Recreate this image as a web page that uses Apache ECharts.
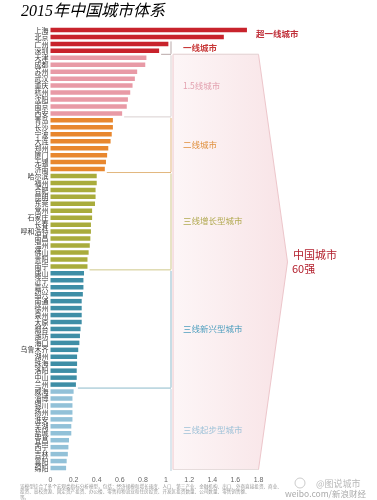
<!DOCTYPE html>
<html><head><meta charset="utf-8">
<script src="https://cdn.jsdelivr.net/npm/echarts@6/dist/echarts.min.js"></script>
<style>html,body{margin:0;padding:0;background:#fff}#c{width:377px;height:500px}</style>
</head><body><div id="c"></div>
<script>
// ---- data ----
const cities = ['上海','北京','广州','深圳',
  '天津','成都','苏州','武汉','重庆','杭州','沈阳','南京','西安',
  '青岛','长沙','宁波','大连','郑州','厦门','无锡','济南',
  '哈尔滨','福州','合肥','昆明','东莞','常州','石家庄','长春','呼和浩特','南昌','温州','佛山','贵阳','南宁',
  '唐山','济宁','嘉兴','绍兴','南通','徐州','泉州','太原','烟台','潍坊','海口','乌鲁木齐','湖州','珠海','洛阳','中山','兰州',
  '威海','淄博','银川','扬州','淮安','芜湖','盐城','宜昌','西宁','吉林','襄阳','绵阳'];
const values = [1.70,1.50,1.02,0.94,
  0.83,0.82,0.75,0.73,0.71,0.69,0.67,0.66,0.62,
  0.54,0.54,0.53,0.52,0.50,0.49,0.48,0.47,
  0.40,0.40,0.39,0.39,0.385,0.36,0.36,0.35,0.35,0.345,0.34,0.33,0.32,0.32,
  0.29,0.285,0.285,0.28,0.27,0.27,0.27,0.27,0.26,0.255,0.25,0.24,0.23,0.23,0.227,0.227,0.22,
  0.20,0.19,0.19,0.19,0.19,0.18,0.18,0.16,0.155,0.15,0.14,0.135];
const tierNames = ['超一线城市','一线城市','1.5线城市','二线城市','三线增长型城市','三线新兴型城市','三线起步型城市'];
const tierSizes = [2,2,9,8,14,17,12];
const xTickLabels = ['0','0.2','0.4','0.6','0.8','1','1.2','1.4','1.6','1.8'];
const titleText = '2015年中国城市体系';
const sideText = ['中国城市','60强'];

// ---- styles ----
const barColors = ['#c8232c','#c8232c','#e89aa6','#e8872e','#a9ac3c','#3e8ea6','#92c1d8'];
const textColors = ['#c0303a','#c83a3a','#e3a2b0','#e0903e','#b2aa52','#4f9fbf','#9fc2d8'];
const lineColors = ['#ccc','#b9a9a9','#d9d0d0','#e2b77e','#cfc88a','#8dbacb','#b7cfdc'];

const tierOf = [];
tierSizes.forEach((n,t)=>{for(let k=0;k<n;k++) tierOf.push(t);});

const chart = echarts.init(document.getElementById('c'));
chart.setOption({
  animation:false,
  backgroundColor:'#fff',
  grid:{left:50.5, right:118.5, top:26.5, bottom:28.5},
  xAxis:{type:'value', min:0, max:1.8, interval:0.2,
    axisLine:{show:false}, axisTick:{show:false}, splitLine:{show:false},
    axisLabel:{fontSize:7, color:'#666', margin:5, fontFamily:'Liberation Sans',
      formatter:(v)=>xTickLabels[Math.round(v/0.2)]}},
  yAxis:{type:'category', inverse:true, data:cities,
    axisLine:{show:false}, axisTick:{show:false},
    axisLabel:{fontSize:7, color:'#3a3a3a', margin:2, interval:0, fontFamily:'Noto Sans CJK SC', lineHeight:7}},
  series:[{type:'bar', z:5, barWidth:4.5,
    data:values.map((v,i)=>({value:v, itemStyle:{color:barColors[tierOf[i]]}}))}]
});

// ---- decorations computed from axes ----
const px = (v)=>chart.convertToPixel({xAxisIndex:0}, v);
const py = (c)=>chart.convertToPixel({yAxisIndex:0}, c);
const pitch = py(cities[1]) - py(cities[0]);
const g = [];
const bx = 171;
let start = 0, starts = [];
tierSizes.forEach(n=>{starts.push(start); start+=n;});
const polyTop = py(cities[starts[2]]) - pitch/2;
const polyBot = py(cities[cities.length-1]) + pitch/2 - 2;
const right = px(1.8);
g.push({type:'polygon', z:0, shape:{points:[[bx+2,polyTop],[right,polyTop],[right+29,(polyTop+polyBot)/2],[right,polyBot],[bx+2,polyBot]]},
  style:{fill:new echarts.graphic.LinearGradient(0,0,1,0,[{offset:0,color:'#fdf6f7'},{offset:1,color:'#f8e3e6'}]), stroke:'#edc6cb', lineWidth:1}});
g.push({type:'line', z:1, shape:{x1:bx+2,y1:polyTop,x2:right,y2:polyTop}, style:{stroke:'#e6dcdc', lineWidth:1}});
g.push({type:'line', z:1, shape:{x1:bx+2,y1:polyBot,x2:right,y2:polyBot}, style:{stroke:'#e6dcdc', lineWidth:1}});

for(let t=1;t<tierSizes.length;t++){
  const first = starts[t], last = starts[t]+tierSizes[t]-1;
  const top = py(cities[first]) - pitch/2 + 1;
  const bot = py(cities[last]) + pitch/2 - 0.5;
  g.push({type:'line', z:3, shape:{x1:bx,y1:top,x2:bx,y2:bot}, style:{stroke:lineColors[t], lineWidth:1}});
  if(t < tierSizes.length-1){
    const endX = Math.max(px(values[last]), px(values[last+1])) + 2;
    g.push({type:'line', z:3, shape:{x1:endX,y1:bot+0.5,x2:bx,y2:bot+0.5}, style:{stroke:lineColors[t], lineWidth:1}});
  }
  g.push({type:'text', z:6, x:183, y:(py(cities[first])+py(cities[last]))/2,
    style:{text:tierNames[t], fill:textColors[t], font:(t===1?'bold ':'')+'8.5px "Noto Sans CJK SC"', textVerticalAlign:'middle'}});
}
g.push({type:'text', z:6, x:256, y:(py(cities[0])+py(cities[1]))/2,
  style:{text:tierNames[0], fill:textColors[0], font:'bold 8.5px "Noto Sans CJK SC"', textVerticalAlign:'middle'}});
const midY = (polyTop+polyBot)/2;
g.push({type:'text', z:6, x:293, y:midY-7, style:{text:sideText[0], fill:'#b3202e', font:'11px "Noto Sans CJK SC"', textVerticalAlign:'middle'}});
g.push({type:'text', z:6, x:292, y:midY+7, style:{text:sideText[1], fill:'#b3202e', font:'11px "Noto Sans CJK SC"', textVerticalAlign:'middle'}});
g.push({type:'text', z:6, x:21, y:12, style:{text:titleText,
  fill:new echarts.graphic.LinearGradient(0,0,0,1,[{offset:0,color:'#d65a66'},{offset:1,color:'#bf3344'}]),
  font:'italic 16px "Liberation Serif","Noto Sans CJK SC"', textVerticalAlign:'middle'}});
const foot = ['该模型综合了多个宏观类指标分析模型，包括：经济规模和增长速度、人口、第三产业、金融机构、出口、外商直接投资、商业、',
  '投资、高校资源、固定资产投资、办公楼、零售和物流业和住房投资、开发区投资数量、公司数量、零售销售额、',
  '等。'];
foot.forEach((s,i)=>g.push({type:'text', z:6, x:20, y:486+i*5.5, style:{text:s, fill:'#999', font:'4.6px "Noto Sans CJK SC"', textVerticalAlign:'middle'}}));
g.push({type:'text', z:7, x:316, y:484, style:{text:'@图说城市', fill:'#b8b8b8', font:'9px "Noto Sans CJK SC"', textVerticalAlign:'middle'}});
g.push({type:'text', z:7, x:285, y:494, style:{text:'weibo.com/新浪财经', fill:'#aaa', font:'8.5px "Noto Sans CJK SC"', textVerticalAlign:'middle'}});
g.push({type:'circle', z:7, shape:{cx:300,cy:483,r:5}, style:{fill:'none', stroke:'#ccc', lineWidth:1}});

chart.setOption({graphic:g});
</script></body></html>
